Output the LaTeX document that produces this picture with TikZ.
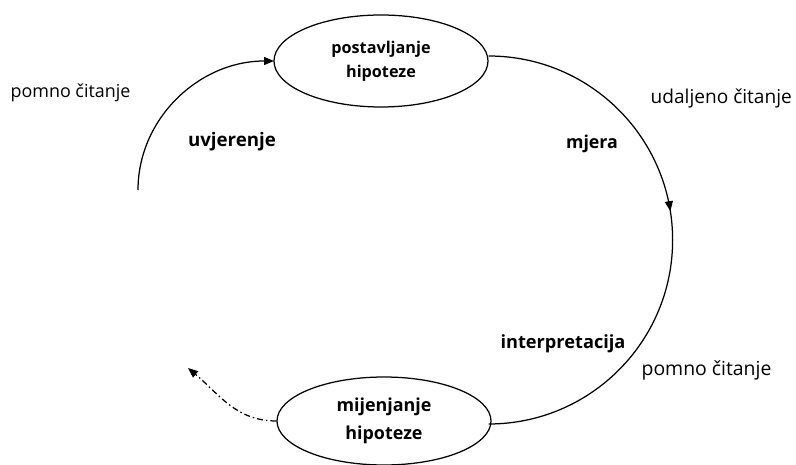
\documentclass[tikz,border=0pt]{standalone}
\usepackage{fontspec}
\setmainfont{Open Sans}
\usetikzlibrary{shapes.geometric,arrows.meta,decorations.markings}
\newcommand{\fsz}[2]{\fontsize{#1}{#2}\selectfont}
\begin{document}
\begin{tikzpicture}[x=1pt,y=-1pt,
  line width=1.25pt,
  oval/.style={draw, ellipse, minimum width=214pt, minimum height=92pt, inner sep=0pt, align=center},
  lbl/.style={inner sep=0pt},
  blbl/.style={inner sep=0pt, font=\bfseries},
  tip/.style={-{Triangle[length=10pt,width=8pt]}}
]
\useasboundingbox (0,0) rectangle (796,465);
\node[oval, font=\fsz{16.2}{24}\bfseries] (top) at (381,61) {postavljanje\\hipoteze};
\node[oval, minimum height=88pt, font=\fsz{17.9}{28}\bfseries] (bot) at (384,421) {mijenjanje\\hipoteze};
\coordinate (la) at (138,190);
\coordinate (da) at (188,368);
% right arc
\draw[postaction={decorate},decoration={markings,
   mark=at position 0.45 with {\arrow{Triangle[length=10pt,width=8pt]}}}]
   ([yshift=5pt]top.east) arc[start angle=-90, end angle=90, radius=184];
% left arc
\draw[tip] (la) arc[start angle=180, end angle=270, x radius=136, y radius=129];
% dash-dot
\draw[tip, dash pattern=on 6pt off 3pt on 1.5pt off 3pt] (bot.west) to[out=180,in=-40] (da);
% labels
\node[lbl, anchor=west, font=\fsz{17.9}{20}] (l1) at (10,93) {pomno čitanje};
\node[blbl, font=\fsz{18.7}{20}\bfseries] (l2) at (232,142) {uvjerenje};
\node[lbl, anchor=west, font=\fsz{19.1}{20}] (l3) at (650,98) {udaljeno čitanje};
\node[blbl, font=\fsz{17.8}{20}\bfseries] (l4) at (592,144) {mjera};
\node[blbl, font=\fsz{18.2}{20}\bfseries] (l5) at (563,344) {interpretacija};
\node[lbl, anchor=west, font=\fsz{19.4}{20}] (l6) at (641,370) {pomno čitanje};
\end{tikzpicture}
\end{document}
